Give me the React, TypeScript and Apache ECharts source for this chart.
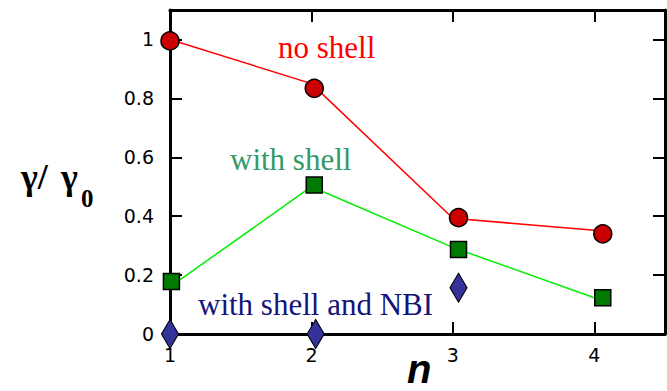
import React, { useEffect, useRef } from "react";
import * as echarts from "echarts";

// Line vertices (drawn at the integer n positions)
const lineN = [1, 2, 3, 4];
const noShellLine = [1.0, 0.85, 0.393, 0.352];
const withShellLine = [0.16, 0.5, 0.294, 0.123];

// Marker positions
const noShellN = [1, 2.02, 3.04, 4.06];
const noShellVal = [0.995, 0.834, 0.395, 0.34];
const withShellN = [1.01, 2.02, 3.04, 4.06];
const withShellVal = [0.178, 0.506, 0.287, 0.123];
const nbiN = [1, 2.03, 3.04];
const nbiVal = [0, 0, 0.157];

const xTicks = [1, 2, 3, 4];
const yTicks = [0, 0.2, 0.4, 0.6, 0.8, 1];

const pair = (xs: number[], ys: number[]) => xs.map((x, i) => [x, ys[i]]);

export default function App() {
  const ref = useRef<HTMLDivElement>(null);
  useEffect(() => {
    if (!ref.current) return;
    const chart = echarts.init(ref.current, null, { renderer: "svg" });
    const axisLine = { show: true, onZero: false, lineStyle: { color: "#000", width: 3 } };
    const tick = { show: true, inside: true, length: 12, lineStyle: { color: "#000", width: 2 } };
    const labelStyle = { color: "#000", fontFamily: "DejaVu Sans", fontSize: 19 };
    chart.setOption({
      animation: false,
      backgroundColor: "#fff",
      grid: { left: 170, right: 2, top: 10, bottom: 57, containLabel: false },
      xAxis: [
        {
          type: "value",
          min: 1,
          max: 4.5,
          axisLine,
          axisTick: { ...tick, customValues: [2, 3, 4] },
          axisLabel: { ...labelStyle, margin: 11, customValues: xTicks, formatter: (v: number) => String(v) },
          splitLine: { show: false },
        },
        {
          type: "value",
          position: "top",
          min: 1,
          max: 4.5,
          axisLine,
          axisTick: { ...tick, customValues: [2, 3, 4] },
          axisLabel: { show: false },
          splitLine: { show: false },
        },
      ],
      yAxis: [
        {
          type: "value",
          min: 0,
          max: 1.1,
          axisLine,
          axisTick: { ...tick, customValues: [0.2, 0.4, 0.6, 0.8, 1] },
          axisLabel: { ...labelStyle, margin: 16, customValues: yTicks, formatter: (v: number) => String(v) },
          splitLine: { show: false },
        },
        {
          type: "value",
          position: "right",
          min: 0,
          max: 1.1,
          axisLine,
          axisTick: { ...tick, customValues: [0.2, 0.4, 0.6, 0.8, 1] },
          axisLabel: { show: false },
          splitLine: { show: false },
        },
      ],
      series: [
        {
          type: "line",
          data: pair(lineN, noShellLine),
          symbol: "none",
          lineStyle: { color: "#ff0000", width: 1.5 },
          clip: false,
          z: 3,
        },
        {
          type: "line",
          data: pair(lineN, withShellLine),
          symbol: "none",
          lineStyle: { color: "#00ee00", width: 1.5 },
          clip: false,
          z: 3,
        },
        {
          type: "scatter",
          data: pair(noShellN, noShellVal),
          symbol: "circle",
          symbolSize: 18,
          itemStyle: { color: "#cc0000", borderColor: "#000", borderWidth: 1.5, opacity: 1 },
          clip: false,
          z: 4,
        },
        {
          type: "scatter",
          data: pair(withShellN, withShellVal),
          symbol: "rect",
          symbolSize: 16,
          itemStyle: { color: "#007a00", borderColor: "#000", borderWidth: 1.5, opacity: 1 },
          clip: false,
          z: 4,
        },
        {
          type: "scatter",
          data: pair(nbiN, nbiVal),
          symbol: "diamond",
          symbolSize: [17, 29],
          itemStyle: { color: "#333399", borderColor: "#000", borderWidth: 1.2, opacity: 1 },
          clip: false,
          z: 4,
        },
      ],
      graphic: [
        {
          type: "text",
          x: 278,
          y: 47.5,
          style: { text: "no shell", fill: "#ff0000", fontFamily: "Liberation Serif", fontSize: 31, verticalAlign: "middle" },
        },
        {
          type: "text",
          x: 230,
          y: 159.5,
          style: { text: "with shell", fill: "#339966", fontFamily: "Liberation Serif", fontSize: 31, verticalAlign: "middle" },
        },
        {
          type: "text",
          x: 198,
          y: 304.5,
          style: { text: "with shell and NBI", fill: "#141478", fontFamily: "Liberation Serif", fontSize: 31, verticalAlign: "middle" },
        },
        {
          type: "text",
          x: 21,
          y: 177,
          style: { text: "γ/", fill: "#000", fontFamily: "Liberation Serif", fontWeight: "bold", fontSize: 36, verticalAlign: "middle" },
        },
        {
          type: "text",
          x: 61,
          y: 177,
          style: { text: "γ", fill: "#000", fontFamily: "Liberation Serif", fontWeight: "bold", fontSize: 36, verticalAlign: "middle" },
        },
        {
          type: "text",
          x: 81,
          y: 198.5,
          style: { text: "0", fill: "#000", fontFamily: "Liberation Serif", fontWeight: "bold", fontSize: 25, verticalAlign: "middle" },
        },
        {
          type: "text",
          x: 407,
          y: 369,
          style: { text: "n", fill: "#000", fontFamily: "Liberation Sans", fontWeight: "bold", fontStyle: "italic", fontSize: 40, verticalAlign: "middle" },
        },
      ],
    });
    return () => chart.dispose();
  }, []);
  return <div ref={ref} style={{ width: 667, height: 391, position: "fixed", left: 0, top: 0 }} />;
}
